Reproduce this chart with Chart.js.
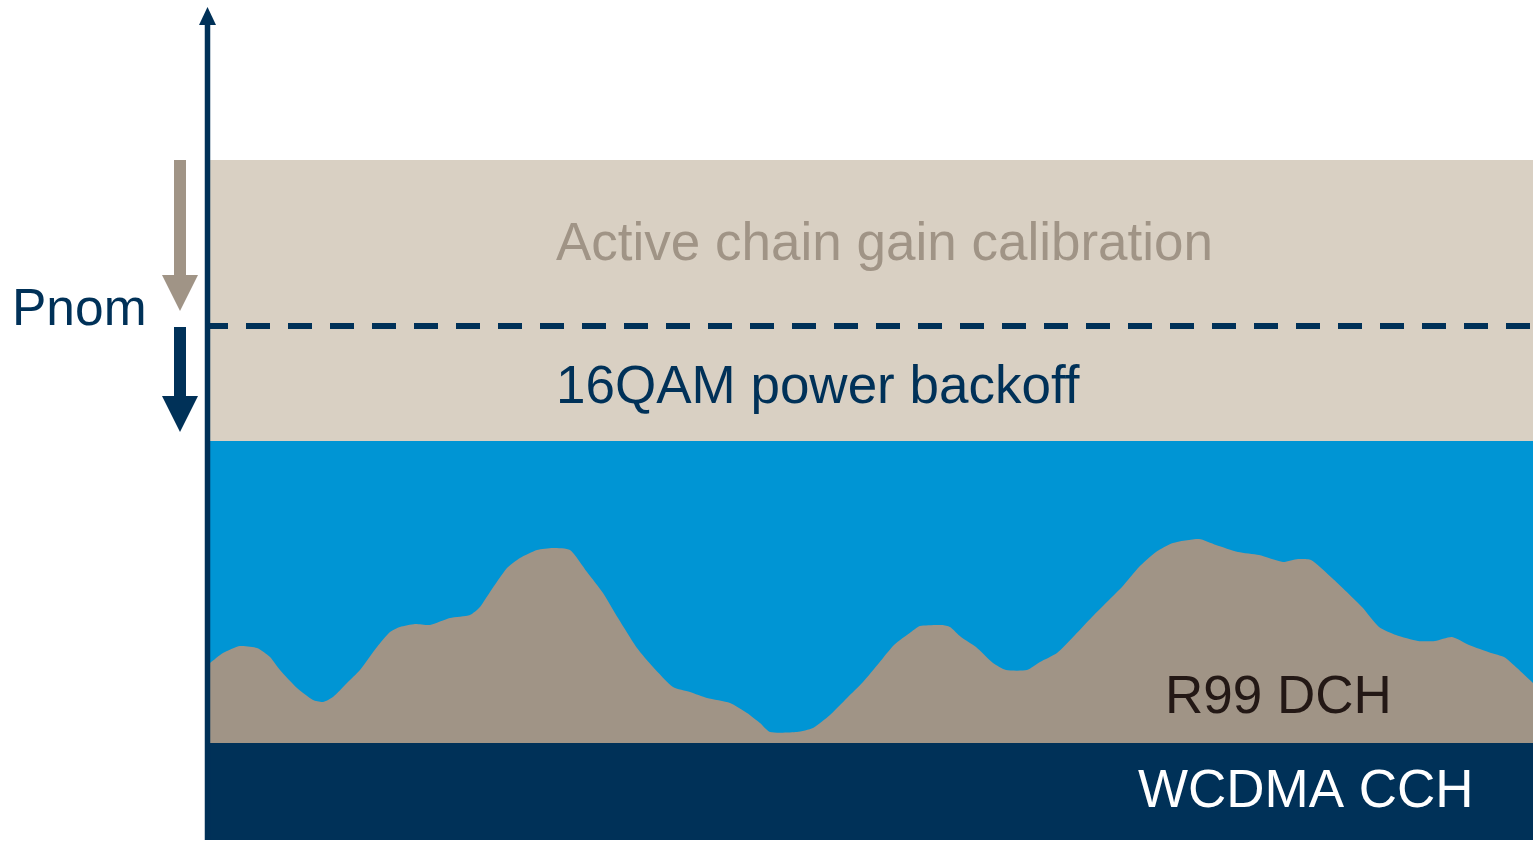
<!DOCTYPE html>
<html>
<head>
<meta charset="utf-8">
<script src="https://cdn.jsdelivr.net/npm/chart.js@4/dist/chart.umd.min.js"></script>
<style>
  html, body { margin: 0; padding: 0; background: #ffffff; }
  #wrap { width: 1533px; height: 842px; }
</style>
</head>
<body>
<div id="wrap"><canvas id="c" width="1533" height="842"></canvas></div>
<script>
// ---- data (time in arbitrary units, power in arbitrary units) ----
const timeSpan = [0, 1323];
const cchLevel = 97;        // WCDMA CCH top
const dchMaxLevel = 399;    // top of available R99/HSPA power (blue)
const pnomLevel = 514;      // Pnom (dashed)
const calLevel = 680;       // top of calibration margin
const dchTime = [0,13,30,47,60,70,87,103,113,123,137,150,167,180,190,205,220,240,260,270,280,297,310,327,343,360,377,393,408,427,443,463,480,497,520,537,550,560,587,603,620,637,653,669,684,701,710,732,740,751,766,783,796,817,830,847,865,882,899,912,929,946,963,989,1006,1028,1049,1073,1088,1101,1122,1152,1169,1186,1208,1225,1242,1259,1281,1294,1307,1323];
const dchPower = [177,187,194,192,183,170,152,140,138,143,157,170,193,208,213,216,215,222,225,233,248,272,282,290,292,290,268,247,222,192,173,153,148,142,137,127,117,108,108,112,125,142,158,177,195,208,214,215,213,203,193,177,170,170,178,187,205,223,240,253,273,288,297,301,295,288,285,278,281,280,262,233,213,205,199,199,203,195,187,183,172,157];
const labels = {
  cal: "Active chain gain calibration",
  backoff: "16QAM power backoff",
  dch: "R99 DCH",
  cch: "WCDMA CCH",
  pnom: "Pnom"
};

const NAVY = "#003158";
const BLUE = "#0095D4";
const BEIGE = "#D9D0C3";
const GRAY = "#A09486";

const band = (lvl) => [{x: timeSpan[0], y: lvl}, {x: timeSpan[1], y: lvl}];
const profile = dchTime.map((t, i) => ({x: t, y: dchPower[i]}));

const FONT = '"Liberation Sans", Arial, sans-serif';

const decor = {
  id: 'decor',
  afterDatasetsDraw(chart) {
    const ctx = chart.ctx;
    const xs = chart.scales.x, ys = chart.scales.y;
    const ca = chart.chartArea;
    ctx.save();
    // vertical power axis with arrow
    const ax = ca.left - 2.5;
    ctx.fillStyle = NAVY;
    ctx.fillRect(ax - 2.75, 22, 5.5, ys.getPixelForValue(0) - 22);
    ctx.beginPath();
    ctx.moveTo(ax, 7);
    ctx.lineTo(ax + 8.5, 25);
    ctx.lineTo(ax - 8.5, 25);
    ctx.closePath();
    ctx.fill();

    // side arrows
    const arrow = (cx, y0, y1, color) => {
      const head = 36;
      ctx.fillStyle = color;
      ctx.fillRect(cx - 6, y0, 12, (y1 - head) - y0 + 1);
      ctx.beginPath();
      ctx.moveTo(cx - 18, y1 - head);
      ctx.lineTo(cx + 18, y1 - head);
      ctx.lineTo(cx, y1);
      ctx.closePath();
      ctx.fill();
    };
    const sx = ca.left - 30;
    arrow(sx, ys.getPixelForValue(calLevel), ys.getPixelForValue(pnomLevel) - 15, GRAY);
    arrow(sx, ys.getPixelForValue(pnomLevel) + 1, ys.getPixelForValue(dchMaxLevel) - 9, NAVY);

    // texts
    ctx.textBaseline = 'alphabetic';
    ctx.textAlign = 'left';
    ctx.font = '51.5px ' + FONT;
    ctx.fillStyle = NAVY;
    ctx.fillText(labels.pnom, 12, ys.getPixelForValue(pnomLevel) - 1);

    ctx.font = '53px ' + FONT;
    ctx.fillStyle = GRAY;
    ctx.fillText(labels.cal, xs.getPixelForValue(346), ys.getPixelForValue(580));

    ctx.fillStyle = NAVY;
    ctx.fillText(labels.backoff, xs.getPixelForValue(346), ys.getPixelForValue(437));

    ctx.fillStyle = '#231815';
    ctx.fillText(labels.dch, xs.getPixelForValue(955), ys.getPixelForValue(127));

    ctx.fillStyle = '#ffffff';
    ctx.fillText(labels.cch, xs.getPixelForValue(928), ys.getPixelForValue(33));
    ctx.restore();
  }
};

new Chart(document.getElementById('c'), {
  type: 'line',
  data: {
    datasets: [
      { label: 'Pnom', data: band(pnomLevel), borderColor: NAVY, borderWidth: 6,
        borderDash: [24, 18], borderDashOffset: 6, fill: false, pointRadius: 0, order: 1 },
      { label: 'R99 DCH', data: profile, borderWidth: 0, borderColor: GRAY, backgroundColor: GRAY,
        fill: {value: cchLevel}, pointRadius: 0, tension: 0.2, order: 2 },
      { label: 'WCDMA CCH', data: band(cchLevel), borderWidth: 0, backgroundColor: NAVY,
        fill: {value: 0}, pointRadius: 0, order: 3 },
      { label: 'Available', data: band(dchMaxLevel), borderWidth: 0, backgroundColor: BLUE,
        fill: {value: cchLevel}, pointRadius: 0, order: 4 },
      { label: 'Margin', data: band(calLevel), borderWidth: 0, backgroundColor: BEIGE,
        fill: {value: dchMaxLevel}, pointRadius: 0, order: 5 }
    ]
  },
  options: {
    responsive: false,
    animation: false,
    devicePixelRatio: 1,
    layout: { padding: { left: 210, right: 0, top: 0, bottom: 0 } },
    plugins: { legend: { display: false }, tooltip: { enabled: false } },
    scales: {
      x: { type: 'linear', min: timeSpan[0], max: timeSpan[1], display: false },
      y: { type: 'linear', min: -2, max: 840, display: false }
    }
  },
  plugins: [decor]
});
</script>
</body>
</html>
